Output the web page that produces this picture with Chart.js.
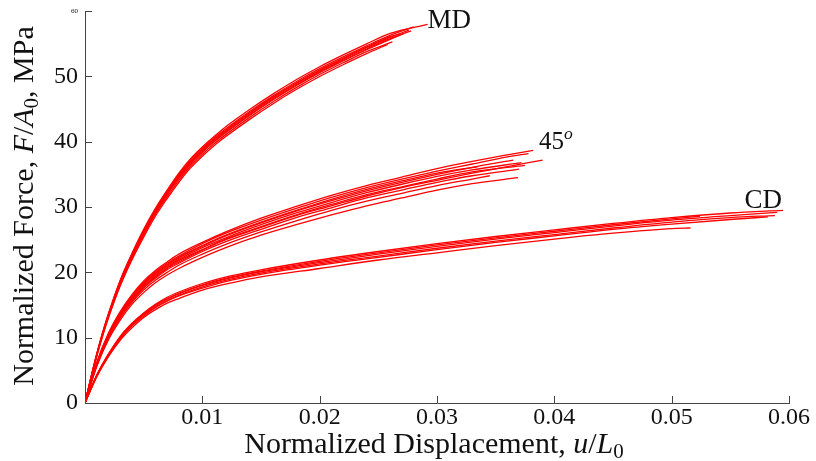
<!DOCTYPE html>
<html>
<head>
<meta charset="utf-8">
<script src="https://cdn.jsdelivr.net/npm/chart.js@4"></script>
<style>
  html, body { margin: 0; padding: 0; background: #fff; }
</style>
</head>
<body>
<canvas id="chart" width="816" height="461"></canvas>
<script>
// strain grid shared by the curves of each group
const mdStrain = [0, 0.0005, 0.001, 0.0015, 0.002, 0.003, 0.004, 0.005, 0.006, 0.007, 0.008, 0.009, 0.010, 0.011, 0.012, 0.014, 0.016, 0.018, 0.020, 0.022, 0.024, 0.026];
const mdStress = [
  [0, 3.9, 7.5, 10.8, 13.7, 18.8, 22.9, 26.6, 29.8, 32.6, 35.2, 37.4, 39.2, 40.8, 42.3, 44.9, 47.3, 49.5, 51.5, 53.3, 55.0, 56.6],
  [0, 3.8, 7.5, 10.7, 13.6, 18.7, 22.8, 26.4, 29.6, 32.4, 35.0, 37.2, 39.0, 40.6, 42.0, 44.6, 47.0, 49.2, 51.2, 53.0, 54.7, 56.3],
  [0, 3.8, 7.4, 10.6, 13.5, 18.5, 22.6, 26.2, 29.4, 32.2, 34.7, 36.9, 38.7, 40.3, 41.7, 44.3, 46.7, 48.9, 50.9, 52.7, 54.4, 56.0],
  [0, 3.7, 7.3, 10.5, 13.4, 18.3, 22.4, 26.0, 29.1, 31.9, 34.4, 36.6, 38.4, 40.0, 41.4, 44.0, 46.4, 48.6, 50.6, 52.4, 54.1, 55.7],
  [0, 3.7, 7.2, 10.4, 13.2, 18.1, 22.2, 25.7, 28.9, 31.6, 34.1, 36.3, 38.1, 39.7, 41.1, 43.7, 46.1, 48.3, 50.3, 52.1, 53.8],
  [0, 3.6, 7.1, 10.2, 13.0, 17.9, 21.9, 25.4, 28.6, 31.3, 33.8, 36.0, 37.8, 39.4, 40.8, 43.4, 45.8, 48.0, 50.0, 51.8, 53.5],
  [0, 3.8, 7.4, 10.6, 13.5, 18.6, 22.7, 26.3, 29.5, 32.3, 34.8, 37.0, 38.8, 40.4, 41.8, 44.4, 46.8, 49.0, 51.0, 52.8, 54.5, 56.1],
  [0, 3.8, 7.3, 10.5, 13.4, 18.4, 22.5, 26.1, 29.2, 32.0, 34.5, 36.7, 38.5, 40.1, 41.5, 44.1, 46.5, 48.7, 50.7, 52.5, 54.2, 55.8]
];
const mdEnd = [[0.0292, 58.0], [0.0280, 57.6], [0.0276, 57.1], [0.0272, 56.6], [0.0262, 55.3], [0.0258, 54.9], [0.0268, 56.5], [0.0278, 57.0]];

const d45Strain = [0, 0.001, 0.002, 0.003, 0.004, 0.005, 0.006, 0.007, 0.008, 0.010, 0.012, 0.015, 0.018, 0.021, 0.024, 0.027, 0.030, 0.033, 0.036];
const d45Stress = [
  [0, 6.2, 10.7, 14.0, 16.6, 18.7, 20.3, 21.6, 22.8, 24.6, 26.2, 28.3, 30.1, 31.8, 33.3, 34.6, 35.9, 37.0, 38.0],
  [0, 6.1, 10.6, 13.9, 16.4, 18.5, 20.1, 21.4, 22.5, 24.4, 26.0, 28.0, 29.8, 31.5, 33.0, 34.3, 35.5, 36.6, 37.7],
  [0, 5.9, 10.1, 13.4, 15.8, 17.7, 19.3, 20.6, 21.6, 23.4, 25.0, 26.9, 28.7, 30.2, 31.7, 33.0, 34.1, 35.2, 36.2],
  [0, 6.0, 10.4, 13.7, 16.2, 18.2, 19.8, 21.1, 22.2, 24.0, 25.6, 27.6, 29.4, 31.0, 32.5, 33.8, 35.0, 36.1],
  [0, 5.9, 10.3, 13.6, 16.0, 18.0, 19.6, 20.9, 22.0, 23.8, 25.3, 27.3, 29.1, 30.7, 32.2, 33.5, 34.7, 35.7],
  [0, 5.9, 10.2, 13.4, 15.9, 17.8, 19.4, 20.7, 21.8, 23.5, 25.1, 27.0, 28.8, 30.4, 31.9, 33.1, 34.3, 35.4],
  [0, 5.8, 10.0, 13.2, 15.6, 17.6, 19.1, 20.4, 21.4, 23.2, 24.7, 26.6, 28.4, 29.9, 31.4, 32.6, 33.8, 34.8],
  [0, 5.7, 9.9, 13.0, 15.4, 17.3, 18.8, 20.0, 21.1, 22.8, 24.3, 26.2, 27.9, 29.5, 30.9, 32.1, 33.3, 34.3],
  [0, 5.6, 9.7, 12.7, 15.1, 16.9, 18.4, 19.6, 20.6, 22.3, 23.8, 25.7, 27.3, 28.8, 30.2, 31.4, 32.6, 33.6],
  [0, 6.0, 10.5, 13.8, 16.3, 18.3, 19.9, 21.2, 22.3, 24.1, 25.7, 27.7, 29.5, 31.2, 32.7, 34.0, 35.2]
];
const d45End = [[0.0382, 38.7], [0.0378, 38.2], [0.0390, 37.2], [0.0365, 37.2], [0.0372, 36.8], [0.0375, 36.4], [0.0370, 35.8], [0.0345, 34.8], [0.0369, 34.5], [0.0335, 36.2]];

const cdStrain = [0, 0.001, 0.002, 0.003, 0.004, 0.005, 0.006, 0.007, 0.008, 0.010, 0.0125, 0.015, 0.020, 0.025, 0.030, 0.035, 0.040, 0.045, 0.050, 0.055];
const cdStress = [
  [0, 4.3, 7.5, 10.2, 12.2, 13.8, 15.1, 16.2, 17.0, 18.3, 19.5, 20.4, 21.9, 23.2, 24.4, 25.5, 26.5, 27.5, 28.4, 29.1],
  [0, 4.2, 7.4, 10.0, 12.0, 13.6, 14.9, 15.9, 16.7, 18.0, 19.2, 20.1, 21.5, 22.8, 24.0, 25.1, 26.1, 27.1, 28.0, 28.7],
  [0, 4.2, 7.3, 9.9, 11.9, 13.5, 14.7, 15.7, 16.5, 17.8, 19.0, 19.9, 21.3, 22.5, 23.7, 24.8, 25.8, 26.8, 27.7, 28.4],
  [0, 4.2, 7.5, 10.1, 12.1, 13.7, 15.0, 16.0, 16.8, 18.1, 19.3, 20.2, 21.7, 23.0, 24.2, 25.3, 26.3, 27.3, 28.2],
  [0, 4.0, 7.1, 9.6, 11.5, 13.1, 14.3, 15.3, 16.0, 17.3, 18.4, 19.3, 20.6, 21.9, 23.0, 24.1, 25.1, 26.0, 26.7],
  [0, 4.1, 7.3, 9.8, 11.8, 13.3, 14.6, 15.6, 16.4, 17.6, 18.8, 19.7, 21.1, 22.3, 23.5, 24.6, 25.6, 26.6, 27.4, 28.1]
];
const cdEnd = [[0.0595, 29.5], [0.0590, 29.2], [0.0588, 28.7], [0.0524, 28.6], [0.0516, 26.8], [0.0582, 28.5]];

const xTicks = [0.01, 0.02, 0.03, 0.04, 0.05, 0.06];
const yTicks = [10, 20, 30, 40, 50, 60];

const labels = [
  { parts: [{ t: 'MD' }], x: 0.0292, y: 57.5, size: 27 },
  { parts: [{ t: '45' }, { t: 'o', it: true, sup: true }], x: 0.0387, y: 38.9, size: 25 },
  { parts: [{ t: 'CD' }], x: 0.0562, y: 29.9, size: 27 }
];

function makeSets(strain, stress, ends) {
  return stress.map((row, i) => {
    const pts = row.map((v, j) => ({ x: strain[j], y: v }));
    pts.push({ x: ends[i][0], y: ends[i][1] });
    return {
      data: pts,
      showLine: true,
      borderColor: '#ff0000',
      borderWidth: 1.3,
      pointRadius: 0,
      fill: false,
      cubicInterpolationMode: 'monotone'
    };
  });
}

const FONT = "'Liberation Serif', 'DejaVu Serif', serif";
Chart.defaults.font.family = FONT;

// draws a run of text with italic / subscript / superscript pieces
function drawParts(ctx, parts, x, y, size, align) {
  const font = p => {
    const s = (p.sub || p.sup) ? size * 0.7 : size;
    return (p.it ? 'italic ' : '') + s + 'px ' + FONT;
  };
  let w = 0;
  parts.forEach(p => { ctx.font = font(p); w += ctx.measureText(p.t).width; });
  let cx = align === 'center' ? x - w / 2 : x;
  parts.forEach(p => {
    ctx.font = font(p);
    let dy = 0;
    if (p.sub) dy = size * 0.15;
    if (p.sup) dy = -size * 0.38;
    ctx.fillText(p.t, cx, y + dy);
    cx += ctx.measureText(p.t).width;
  });
}

const decor = {
  id: 'decor',
  afterDraw(chart) {
    const { ctx, chartArea: a, scales: { x, y } } = chart;
    ctx.save();
    ctx.strokeStyle = '#444';
    ctx.lineWidth = 1;
    ctx.beginPath();
    xTicks.forEach(v => {
      const px = Math.round(x.getPixelForValue(v)) + 0.5;
      ctx.moveTo(px, a.bottom);
      ctx.lineTo(px, a.bottom - 7);
    });
    yTicks.forEach(v => {
      const py = Math.round(y.getPixelForValue(v)) + 0.5;
      ctx.moveTo(a.left, py);
      ctx.lineTo(a.left + 7, py);
    });
    ctx.stroke();

    ctx.fillStyle = '#111';
    ctx.textBaseline = 'alphabetic';
    ctx.textAlign = 'left';
    labels.forEach(l => {
      drawParts(ctx, l.parts, x.getPixelForValue(l.x), y.getPixelForValue(l.y), l.size, 'left');
    });

    drawParts(ctx, [
      { t: 'Normalized Displacement, ' }, { t: 'u', it: true }, { t: '/' },
      { t: 'L', it: true }, { t: '0', sub: true }
    ], 434, 453, 30, 'center');

    ctx.translate(33, 206);
    ctx.rotate(-Math.PI / 2);
    drawParts(ctx, [
      { t: 'Normalized Force, ' }, { t: 'F', it: true }, { t: '/' },
      { t: 'A', it: true }, { t: '0', sub: true }, { t: ', MPa' }
    ], 0, 0, 30, 'center');
    ctx.restore();
  }
};

new Chart(document.getElementById('chart'), {
  type: 'scatter',
  data: {
    datasets: [
      ...makeSets(mdStrain, mdStress, mdEnd),
      ...makeSets(d45Strain, d45Stress, d45End),
      ...makeSets(cdStrain, cdStress, cdEnd)
    ]
  },
  options: {
    responsive: false,
    animation: false,
    layout: { padding: { top: 9, right: 27, left: 0, bottom: 0 } },
    plugins: { legend: { display: false }, tooltip: { enabled: false } },
    scales: {
      x: {
        type: 'linear',
        min: 0,
        max: 0.06,
        afterFit: s => { s.height = 58; },
        grid: { display: false, drawTicks: false },
        border: { display: true, color: '#444', width: 1 },
        ticks: {
          stepSize: 0.01,
          padding: 0,
          color: '#111',
          maxRotation: 0,
          autoSkip: false,
          font: { size: 24 },
          callback: v => (v === 0 ? '' : v.toFixed(2))
        }
      },
      y: {
        min: 0,
        max: 60,
        afterFit: s => { s.width = 85; },
        grid: { display: false, drawTicks: false },
        border: { display: true, color: '#444', width: 1 },
        ticks: {
          stepSize: 10,
          padding: 7,
          color: '#111',
          font: c => (c.tick && c.tick.value === 60 ? { size: 7 } : { size: 24 })
        }
      }
    }
  },
  plugins: [decor]
});
</script>
</body>
</html>
